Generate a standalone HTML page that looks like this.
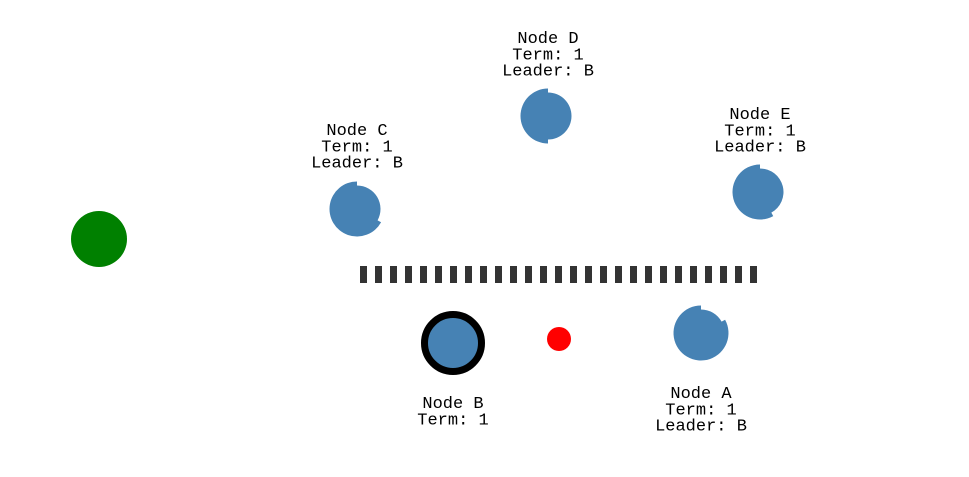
<!DOCTYPE html>
<html><head><meta charset="utf-8"><style>
html,body{margin:0;padding:0;background:#fff;}
svg{display:block;}
text{font-family:"Liberation Mono","Courier New",monospace;font-size:17px;fill:#000;text-anchor:middle;}
</style></head><body>
<svg id="chart" width="969" height="477" viewBox="0 0 969 477">
<circle cx="99" cy="239" r="28" fill="#008000"/>
<g id="partition"></g>
<circle cx="559" cy="339" r="12" fill="#ff0000"/>
<g id="nodes"></g>
</svg>
<script>
const nodeNames = ["A","B","C","D","E"];
const nodeTerms = [1,1,1,1,1];
const nodeLeaders = ["B",null,"B","B","B"];
const timerFraction = [0.17,0,0.33,0.5,0.42];
const NS="http://www.w3.org/2000/svg";
const pos = {A:[701,333],B:[453,343],C:[357,209],D:[548,116],E:[760,192]};
const labelTop = {A:393,B:403,C:130,D:38,E:114};
const svg=document.getElementById('nodes');
const part=document.getElementById('partition');
for(let i=0;i<27;i++){
  const r=document.createElementNS(NS,'rect');
  r.setAttribute('x',360+i*15);r.setAttribute('y',266);r.setAttribute('width',7);r.setAttribute('height',17);r.setAttribute('fill','#333');
  
  
  part.appendChild(r);
}
function pt(cx,cy,r,a){return [cx+r*Math.sin(a),cy-r*Math.cos(a)];}
nodeNames.forEach((n,i)=>{
  const [cx,cy]=pos[n];
  const g=document.createElementNS(NS,'g');
  
  
  if(nodeLeaders[i]===null){
    const o=document.createElementNS(NS,'circle');
    o.setAttribute('cx',cx);o.setAttribute('cy',cy);o.setAttribute('r',28.5);o.setAttribute('fill','#4682b4');o.setAttribute('stroke','#000');o.setAttribute('stroke-width',7);
    g.appendChild(o);
  } else {
    const R=27.5,ri=23.5,f=timerFraction[i],a=f*2*Math.PI;
    const p0=pt(cx,cy,ri,0),p1=pt(cx,cy,ri,a),p2=pt(cx,cy,R,a),p3=pt(cx,cy,R,0);
    const d=`M${p0} A${ri},${ri} 0 ${f>0.5?1:0} 1 ${p1} L${p2} A${R},${R} 0 ${f<0.5?1:0} 1 ${p3} Z`;
    const p=document.createElementNS(NS,'path');
    p.setAttribute('d',d);p.setAttribute('fill','#4682b4');
    g.appendChild(p);
  }
  const lines=['Node '+n,'Term: '+nodeTerms[i]];
  if(nodeLeaders[i]) lines.push('Leader: '+nodeLeaders[i]);
  lines.forEach((t,k)=>{
    const tx=document.createElementNS(NS,'text');
    tx.setAttribute('x',cx);tx.setAttribute('y',labelTop[n]+5+k*16.3);
    
    
    tx.textContent=t;g.appendChild(tx);
  });
  svg.appendChild(g);
});
</script>
</body></html>
